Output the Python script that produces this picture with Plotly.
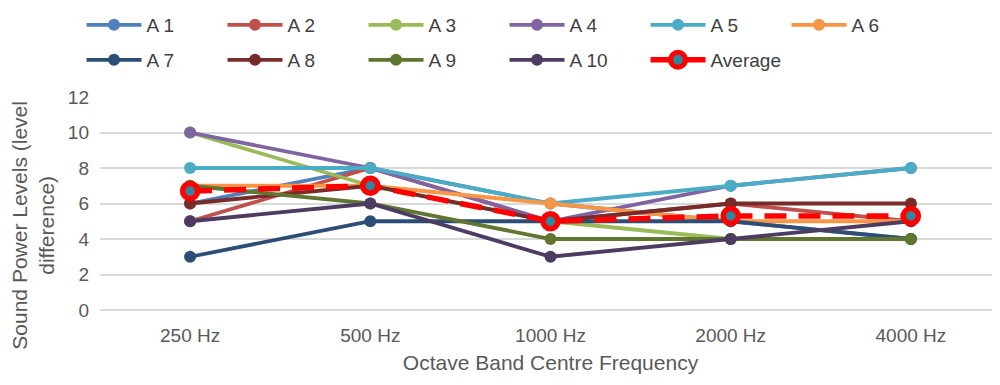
import plotly.graph_objects as go

categories = ["250 Hz", "500 Hz", "1000 Hz", "2000 Hz", "4000 Hz"]
A1 = [6, 8, 6, 5, 4]
A2 = [5, 8, 5, 6, 5]
A3 = [10, 7, 5, 4, 4]
A4 = [10, 8, 5, 7, 8]
A5 = [8, 8, 6, 7, 8]
A6 = [7, 7, 6, 5, 5]
A7 = [3, 5, 5, 5, 4]
A8 = [6, 7, 5, 6, 6]
A9 = [7, 6, 4, 4, 4]
A10 = [5, 6, 3, 4, 5]
average = [6.7, 7.0, 5.0, 5.3, 5.3]

series = [("A 1", A1, "#4F81BD"), ("A 2", A2, "#C0504D"), ("A 3", A3, "#9BBB59"),
          ("A 4", A4, "#8064A2"), ("A 5", A5, "#4BACC6"), ("A 6", A6, "#F79646"),
          ("A 7", A7, "#2C4D75"), ("A 8", A8, "#772C2A"), ("A 9", A9, "#5F7530"),
          ("A 10", A10, "#4D3B62")]

fig = go.Figure()
for i, (name, vals, col) in enumerate(series):
    fig.add_trace(go.Scatter(
        x=categories, y=vals, name=name, mode="lines+markers",
        line=dict(color=col, width=3.8),
        marker=dict(color=col, size=12),
        legend="legend" if i < 6 else "legend2"))
fig.add_trace(go.Scatter(
    x=categories, y=average, name="Average", mode="lines+markers",
    line=dict(color="#FF0000", width=5.5, dash="22px,12px"),
    marker=dict(color="#31859C", size=15, line=dict(color="#FF0000", width=5.5)),
    legend="legend2"))

font = "Liberation Sans, Arial, sans-serif"
leg_common = dict(orientation="h", xanchor="left", yanchor="middle",
                  entrywidth=71, itemwidth=55,
                  font=dict(size=19, color="#404040"), bgcolor="rgba(0,0,0,0)")
fig.update_layout(
    width=1000, height=385,
    margin=dict(l=92, r=7, t=89, b=83, autoexpand=False),
    paper_bgcolor="white", plot_bgcolor="white",
    font=dict(family=font, color="#595959", size=15),
    legend=dict(x=-0.0205, y=1.338, **leg_common),
    legend2=dict(x=-0.0205, y=1.174, **leg_common),
    xaxis=dict(type="category", range=[-0.5, 4.5], showgrid=False, showline=False,
               ticks="", ticklabelstandoff=12, tickfont=dict(size=19, color="#595959"),
               title=dict(text="Octave Band Centre Frequency", font=dict(size=21, color="#595959"), standoff=10)),
    yaxis=dict(range=[0, 12], dtick=2, showgrid=True, gridcolor="#D9D9D9", gridwidth=1.5,
               zeroline=True, zerolinecolor="#D9D9D9", zerolinewidth=1.5,
               showline=False, ticks="", ticklabelstandoff=10, tickfont=dict(size=19, color="#595959")),
    annotations=[dict(text="Sound Power Levels (level<br>difference)", textangle=-90,
                      xref="paper", yref="paper", x=-0.0745, y=0.40,
                      xanchor="center", yanchor="middle", showarrow=False,
                      font=dict(size=21, color="#595959"))],
)
fig.write_html("out.html")
